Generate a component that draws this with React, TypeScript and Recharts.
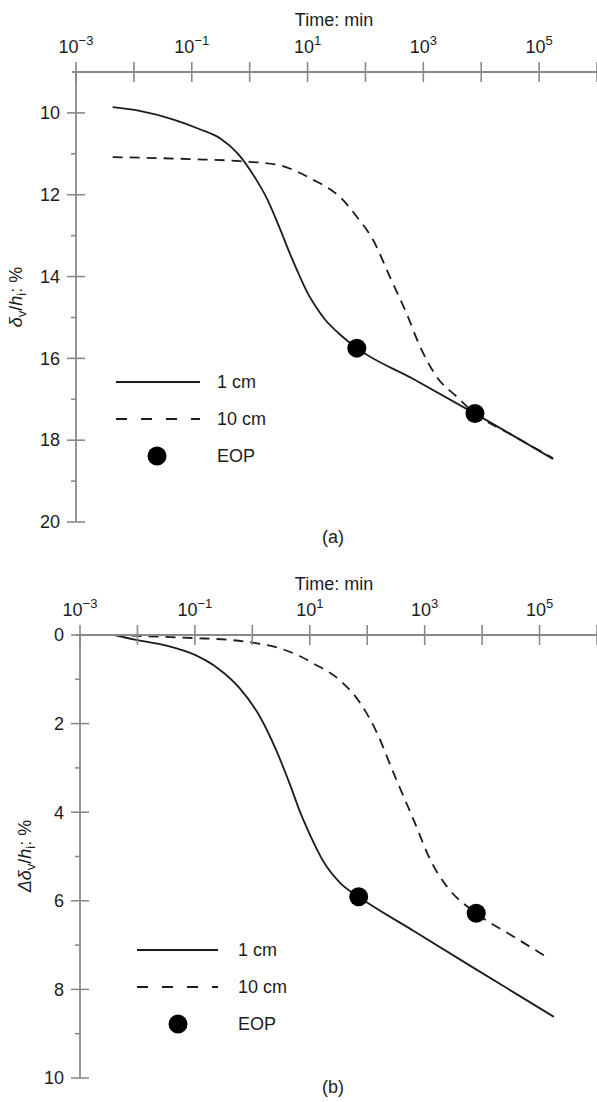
import React from "react";
import { ComposedChart, Line, Scatter, XAxis, YAxis, Legend } from "recharts";

// time in minutes, settlement in %
const T_A_1CM = [0.0043, 0.0126, 0.05, 0.138, 0.316, 0.63, 1.26, 2.0, 3.16, 5, 7.1, 10, 14.1, 20, 34, 71, 660, 7800, 174000];
const V_A_1CM = [9.86, 9.95, 10.17, 10.4, 10.63, 11.0, 11.6, 12.1, 12.75, 13.45, 13.95, 14.4, 14.75, 15.05, 15.38, 15.75, 16.5, 17.35, 18.46];
const T_A_10CM = [0.0043, 0.1, 0.68, 3.3, 7.4, 12.3, 22.4, 36, 71, 135, 263, 513, 871, 1700, 3800, 7800, 31600, 174000];
const V_A_10CM = [11.08, 11.13, 11.18, 11.28, 11.47, 11.63, 11.83, 12.05, 12.54, 13.1, 14.0, 14.9, 15.7, 16.45, 16.94, 17.35, 17.85, 18.44];

const T_B_1CM = [0.004, 0.0095, 0.032, 0.1, 0.25, 0.6, 1.35, 2.6, 4.6, 6.8, 10, 17.4, 34, 71, 645, 7240, 178000];
const V_B_1CM = [0, 0.11, 0.24, 0.45, 0.75, 1.2, 1.84, 2.6, 3.4, 4.0, 4.5, 5.12, 5.6, 5.91, 6.68, 7.52, 8.62];
const T_B_10CM = [0.004, 0.01, 0.1, 0.4, 1, 3, 6.8, 11.5, 34, 76, 148, 288, 645, 1260, 2450, 7900, 35500, 145000];
const V_B_10CM = [0, 0.02, 0.07, 0.11, 0.17, 0.3, 0.48, 0.64, 1.03, 1.54, 2.21, 3.12, 4.18, 5.08, 5.68, 6.28, 6.81, 7.3];

// end of primary consolidation
const EOP_T_A = [71, 7800];
const EOP_V_A = [15.75, 17.35];
const EOP_T_B = [71, 7900];
const EOP_V_B = [5.91, 6.28];

const X_TICKS = [1e-3, 1e-2, 1e-1, 1, 10, 100, 1e3, 1e4, 1e5, 1e6];
const X_LABELED = [-3, -1, 1, 3, 5];
const Y_TICKS_A = [10, 11, 12, 13, 14, 15, 16, 17, 18, 19, 20];
const Y_LABELED_A = [10, 12, 14, 16, 18, 20];
const Y_TICKS_B = [0, 1, 2, 3, 4, 5, 6, 7, 8, 9, 10];
const Y_LABELED_B = [0, 2, 4, 6, 8, 10];

const FONT = '"Liberation Sans", Arial, Helvetica, sans-serif';
const INK = "#1c1c1c";
const AXIS_C = "#8a8a8a";
const FS = 18;

const pts = (t: number[], v: number[]) => t.map((x, i) => ({ t: x, v: v[i] }));

function makeXTick(axisY: number) {
  return (props: any) => {
    const { x, payload } = props;
    const e = Math.round(Math.log10(payload.value));
    return (
      <g>
        <line x1={x} x2={x} y1={axisY - 10} y2={axisY + 10} stroke={AXIS_C} strokeWidth={1.6} />
        {X_LABELED.includes(e) && (
          <text x={x} y={axisY - 19} textAnchor="middle" fontSize={FS} fill={INK} fontFamily={FONT}>
            10
            <tspan dy={-8} fontSize={13}>{e < 0 ? `\u2212${-e}` : `${e}`}</tspan>
          </text>
        )}
      </g>
    );
  };
}

function makeYTick(axisX: number, labeled: number[]) {
  return (props: any) => {
    const { y, payload } = props;
    const major = labeled.includes(payload.value);
    return (
      <g>
        <line
          x1={major ? axisX - 9 : axisX - 5}
          x2={major ? axisX + 9 : axisX}
          y1={y}
          y2={y}
          stroke={AXIS_C}
          strokeWidth={1.6}
        />
        {major && (
          <text x={axisX - 16} y={y} dy="0.35em" textAnchor="end" fontSize={FS} fill={INK} fontFamily={FONT}>
            {payload.value}
          </text>
        )}
      </g>
    );
  };
}

function LegendBox({ lineEnd }: { lineEnd: number }) {
  const tx = 107;
  return (
    <svg width={160} height={110} style={{ overflow: "visible" }}>
      <line x1={6} x2={lineEnd} y1={17} y2={17} stroke={INK} strokeWidth={1.8} />
      <text x={tx} y={17} dy="0.35em" fontSize={FS} fill={INK} fontFamily={FONT}>1 cm</text>
      <line x1={6} x2={lineEnd} y1={54} y2={54} stroke={INK} strokeWidth={1.8} strokeDasharray="11 14" />
      <text x={tx} y={54} dy="0.35em" fontSize={FS} fill={INK} fontFamily={FONT}>10 cm</text>
      <circle cx={47} cy={91} r={9.5} fill="#000" />
      <text x={tx} y={91} dy="0.35em" fontSize={FS} fill={INK} fontFamily={FONT}>EOP</text>
    </svg>
  );
}

const Dot = (p: any) => <circle cx={p.cx} cy={p.cy} r={9.5} fill="#000" />;

type PanelProps = {
  top: number;
  height: number;
  margin: { top: number; right: number; bottom: number; left: number };
  solid: { t: number; v: number }[];
  dashed: { t: number; v: number }[];
  eop: { t: number; v: number }[];
  yDomain: [number, number];
  yTicks: number[];
  yLabeled: number[];
  yTitle: React.ReactNode;
  yTitlePos: [number, number];
  titleY: number;
  tag: string;
  tagY: number;
  legendPos: [number, number];
  legendLineEnd: number;
};

function Panel(p: PanelProps) {
  // the axes take 1px each, so the plot box starts one pixel past the margin
  const axisY = p.margin.top + 1;
  const axisX = p.margin.left + 1;
  return (
    <div style={{ position: "absolute", left: 0, top: p.top }}>
      <ComposedChart width={597} height={p.height} margin={p.margin}>
        <XAxis
          type="number"
          dataKey="t"
          scale="log"
          domain={[1e-3, 1e6]}
          allowDataOverflow
          ticks={X_TICKS}
          interval={0}
          orientation="top"
          height={1}
          axisLine={{ stroke: AXIS_C, strokeWidth: 1.8 }}
          tickLine={false}
          tick={makeXTick(axisY)}
        />
        <YAxis
          type="number"
          dataKey="v"
          domain={p.yDomain}
          allowDataOverflow
          reversed
          ticks={p.yTicks}
          interval={0}
          width={1}
          axisLine={{ stroke: AXIS_C, strokeWidth: 1.8 }}
          tickLine={false}
          tick={makeYTick(axisX, p.yLabeled)}
        />
        <Legend
          layout="vertical"
          align="center"
          verticalAlign="middle"
          wrapperStyle={{ position: "absolute", left: p.legendPos[0], top: p.legendPos[1], width: 160, height: 110 }}
          content={() => <LegendBox lineEnd={p.legendLineEnd} />}
        />
        <Line
          data={p.solid}
          dataKey="v"
          type="monotone"
          stroke={INK}
          strokeWidth={1.8}
          dot={false}
          activeDot={false}
          isAnimationActive={false}
        />
        <Line
          data={p.dashed}
          dataKey="v"
          type="monotone"
          stroke={INK}
          strokeWidth={1.8}
          strokeDasharray="10 7"
          dot={false}
          activeDot={false}
          isAnimationActive={false}
        />
        <Scatter data={p.eop} dataKey="v" shape={Dot} isAnimationActive={false} />
        {/* the time axis line runs a little past the vertical axis */}
        <line x1={axisX - 4} x2={axisX} y1={axisY} y2={axisY} stroke={AXIS_C} strokeWidth={1.8} />
        <text x={334} y={p.titleY} textAnchor="middle" fontSize={18} fill={INK} fontFamily={FONT}>
          Time: min
        </text>
        <text
          transform={`translate(${p.yTitlePos[0]},${p.yTitlePos[1]}) rotate(-90)`}
          textAnchor="middle"
          fontSize={18}
          fill={INK}
          fontFamily={FONT}
        >
          {p.yTitle}
        </text>
        <text x={333} y={p.tagY} textAnchor="middle" fontSize={FS} fill={INK} fontFamily={FONT}>
          {p.tag}
        </text>
      </ComposedChart>
    </div>
  );
}

const titleA = (
  <>
    <tspan fontStyle="italic">δ</tspan>
    <tspan fontSize={13} dy={4}>v</tspan>
    <tspan dy={-4}>/</tspan>
    <tspan fontStyle="italic">h</tspan>
    <tspan fontSize={13} dy={4}>i</tspan>
    <tspan dy={-4}>: %</tspan>
  </>
);

const titleB = (
  <>
    <tspan fontStyle="italic">Δδ</tspan>
    <tspan fontSize={13} dy={4}>v</tspan>
    <tspan dy={-4}>/</tspan>
    <tspan fontStyle="italic">h</tspan>
    <tspan fontSize={13} dy={4}>i</tspan>
    <tspan dy={-4}>: %</tspan>
  </>
);

export default function App() {
  return (
    <div style={{ position: "absolute", left: 0, top: 0, width: 597, height: 1102, background: "#fff", overflow: "hidden" }}>
      <Panel
        top={0}
        height={560}
        margin={{ top: 71, right: 0, bottom: 38, left: 75 }}
        solid={pts(T_A_1CM, V_A_1CM)}
        dashed={pts(T_A_10CM, V_A_10CM)}
        eop={pts(EOP_T_A, EOP_V_A)}
        yDomain={[9, 20]}
        yTicks={Y_TICKS_A}
        yLabeled={Y_LABELED_A}
        yTitle={titleA}
        yTitlePos={[22, 297]}
        titleY={26}
        tag="(a)"
        tagY={543}
        legendPos={[110, 365]}
        legendLineEnd={90}
      />
      <Panel
        top={560}
        height={542}
        margin={{ top: 74, right: 0, bottom: 24, left: 79 }}
        solid={pts(T_B_1CM, V_B_1CM)}
        dashed={pts(T_B_10CM, V_B_10CM)}
        eop={pts(EOP_T_B, EOP_V_B)}
        yDomain={[0, 10]}
        yTicks={Y_TICKS_B}
        yLabeled={Y_LABELED_B}
        yTitle={titleB}
        yTitlePos={[31, 296]}
        titleY={30}
        tag="(b)"
        tagY={533}
        legendPos={[131, 373]}
        legendLineEnd={87}
      />
    </div>
  );
}
